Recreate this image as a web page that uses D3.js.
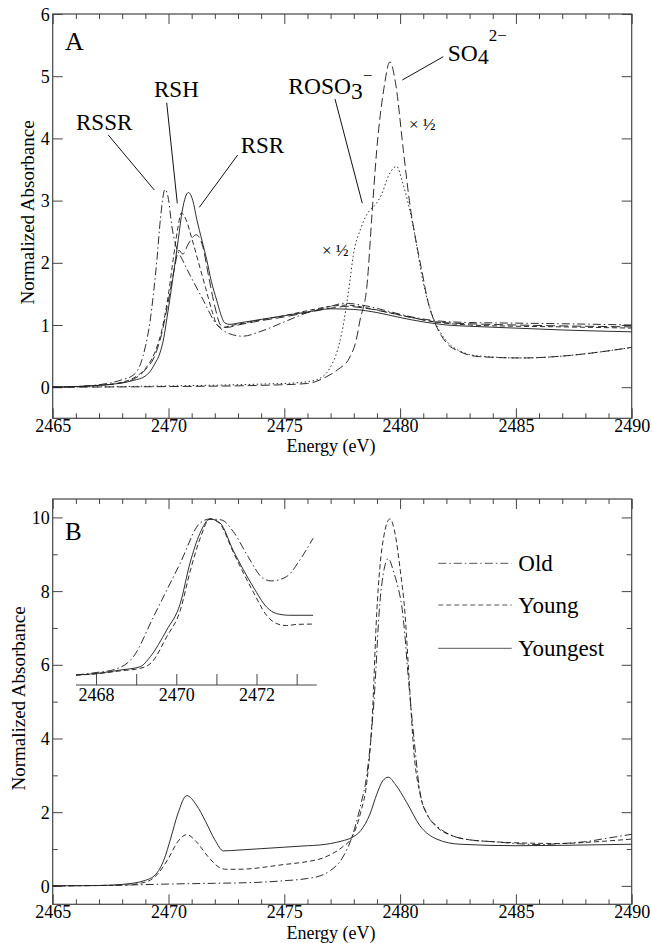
<!DOCTYPE html>
<html><head><meta charset="utf-8">
<script src="https://cdn.jsdelivr.net/npm/d3@7"></script>
<style>
body{margin:0;background:#fff}
svg{display:block}
text{font-family:"Liberation Serif","Times New Roman",serif;fill:#000}
</style>
</head><body>
<svg id="c" width="652" height="943"></svg>
<script>
// ---------------- DATA ----------------
// Panel A: reference compounds, [energy eV, normalized absorbance]
const rssr = [[2465,0],[2466,0.01],[2467,0.04],[2467.5,0.07],[2468,0.12],[2468.5,0.2],[2468.8,0.38],[2469,0.65],[2469.2,1.05],[2469.35,1.5],[2469.5,2.05],[2469.65,2.7],[2469.85,3.18],[2470.0,3.02],[2470.14,2.6],[2470.3,2.3],[2470.6,2.05],[2471,1.75],[2471.5,1.4],[2472,1.05],[2472.5,0.88],[2473.2,0.82],[2474,0.9],[2475,1.05],[2476,1.2],[2477,1.3],[2477.6,1.35],[2478.5,1.31],[2479.5,1.22],[2480.5,1.13],[2481.5,1.07],[2483,1.04],[2485,1.03],[2487,1.02],[2490,1.0]];
const rsh = [[2465,0],[2467,0.03],[2468,0.08],[2468.5,0.15],[2469,0.3],[2469.4,0.55],[2469.7,0.9],[2470,1.5],[2470.2,2.05],[2470.4,2.55],[2470.55,2.8],[2470.75,2.7],[2471,2.4],[2471.3,2.0],[2471.6,1.6],[2471.9,1.2],[2472.1,1.0],[2472.3,0.96],[2472.7,0.99],[2473.5,1.05],[2475,1.15],[2476,1.23],[2477,1.3],[2477.7,1.32],[2478.5,1.28],[2479.5,1.2],[2480.5,1.12],[2481.5,1.05],[2483,1.0],[2485,0.98],[2487,0.97],[2490,0.95]];
const rsx = [[2465,0],[2467,0.03],[2468,0.07],[2468.5,0.13],[2469,0.28],[2469.4,0.5],[2469.7,0.85],[2470,1.4],[2470.25,1.9],[2470.45,2.2],[2470.62,2.14],[2470.85,2.3],[2471.2,2.45],[2471.45,2.3],[2471.75,1.75],[2472,1.3],[2472.25,1.0],[2472.5,0.96],[2473,1.0],[2474,1.07],[2475,1.13],[2476,1.2],[2477,1.27],[2477.7,1.3],[2478.5,1.27],[2479.5,1.2],[2480.5,1.12],[2481.5,1.05],[2483,1.02],[2485,1.0],[2490,0.97]];
const rsr = [[2465,0],[2466,0.01],[2467,0.03],[2468,0.07],[2468.5,0.11],[2469,0.18],[2469.2,0.25],[2469.4,0.37],[2469.63,0.55],[2469.8,0.8],[2469.92,1.08],[2470.05,1.4],[2470.2,1.78],[2470.42,2.37],[2470.6,2.85],[2470.86,3.13],[2471.05,3.0],[2471.22,2.7],[2471.45,2.35],[2471.65,2.05],[2471.85,1.7],[2472.08,1.4],[2472.25,1.18],[2472.44,1.03],[2472.65,1.01],[2473,1.03],[2474,1.09],[2475,1.15],[2476,1.21],[2477,1.26],[2478,1.25],[2479,1.2],[2480,1.12],[2481,1.05],[2482,1.0],[2483,0.98],[2485,0.95],[2487,0.92],[2490,0.89]];
const so4 = [[2465,0],[2470,0.01],[2474,0.03],[2476,0.06],[2476.83,0.17],[2477.3,0.28],[2477.84,0.49],[2478.1,0.75],[2478.27,1.08],[2478.56,1.6],[2478.8,2.85],[2478.99,3.81],[2479.3,4.8],[2479.56,5.23],[2479.8,4.9],[2480.14,3.81],[2480.4,3.0],[2480.71,2.3],[2480.93,1.89],[2481.22,1.35],[2481.51,1.03],[2482.01,0.71],[2482.59,0.57],[2483.45,0.49],[2485.3,0.47],[2487,0.5],[2488.5,0.56],[2490,0.64]];
const roso3 = [[2465,0],[2470,0.02],[2474,0.05],[2475.5,0.07],[2476,0.09],[2476.4,0.12],[2476.97,0.31],[2477.3,0.6],[2477.48,0.87],[2477.84,1.73],[2477.97,2.1],[2478.3,2.55],[2478.7,2.85],[2478.9,2.92],[2479.2,3.1],[2479.5,3.4],[2479.85,3.55],[2480.1,3.3],[2480.57,2.58],[2481,1.68],[2481.22,1.35],[2481.51,1.05],[2482.01,0.74],[2482.59,0.58],[2483.45,0.5],[2485.3,0.47],[2487,0.5],[2488.5,0.56],[2490,0.64]];

// Panel B: samples
const old = [[2465,0],[2468,0.02],[2470,0.05],[2472,0.07],[2474,0.1],[2475,0.14],[2476,0.2],[2476.54,0.27],[2477,0.42],[2477.5,0.75],[2477.91,1.31],[2478.3,2.2],[2478.56,3.0],[2478.87,5.0],[2479.13,7.7],[2479.27,8.45],[2479.49,8.88],[2479.73,8.5],[2479.93,8.05],[2480.07,7.6],[2480.2,6.85],[2480.31,5.98],[2480.6,4.0],[2480.86,2.54],[2481.2,1.9],[2481.58,1.63],[2482.3,1.35],[2483,1.25],[2484,1.2],[2485,1.15],[2486,1.12],[2487,1.15],[2488,1.2],[2489,1.3],[2490,1.4]];
const young = [[2465,0],[2468,0.02],[2469,0.1],[2469.5,0.3],[2470,0.75],[2470.4,1.2],[2470.79,1.39],[2471.2,1.2],[2471.7,0.8],[2472.2,0.5],[2472.5,0.45],[2473,0.45],[2475,0.58],[2476,0.66],[2476.54,0.73],[2477,0.85],[2477.5,1.05],[2477.91,1.31],[2478.3,2.0],[2478.56,2.8],[2478.8,4.6],[2478.99,7.4],[2479.12,8.6],[2479.3,9.5],[2479.56,9.96],[2479.8,9.5],[2480.0,8.6],[2480.21,7.4],[2480.4,5.5],[2480.6,3.6],[2480.86,2.5],[2481.2,1.9],[2481.58,1.6],[2482.3,1.35],[2483,1.25],[2484,1.2],[2485,1.17],[2487,1.15],[2488,1.18],[2490,1.27]];
const youngest = [[2465,0],[2467,0.01],[2468,0.04],[2469,0.15],[2469.5,0.35],[2469.8,0.7],[2470.1,1.3],[2470.4,1.95],[2470.79,2.45],[2471.2,2.2],[2471.6,1.75],[2472,1.25],[2472.37,0.95],[2473,0.97],[2474,1.01],[2475,1.05],[2476,1.09],[2476.54,1.11],[2477,1.15],[2477.5,1.22],[2477.91,1.31],[2478.3,1.5],[2478.7,1.95],[2479,2.5],[2479.25,2.85],[2479.49,2.95],[2479.8,2.75],[2480.28,2.27],[2480.86,1.63],[2481.58,1.27],[2482.59,1.13],[2485,1.09],[2487,1.1],[2490,1.13]];

// Inset (pre-edge region, peak-normalized units)
const insetOld = [[2467.5,0.06],[2468,0.075],[2468.48,0.095],[2468.93,0.17],[2469.43,0.41],[2469.76,0.57],[2470.09,0.73],[2470.59,0.975],[2470.84,1.0],[2471.13,0.994],[2471.42,0.924],[2471.79,0.773],[2472.16,0.643],[2472.37,0.627],[2472.75,0.653],[2473.08,0.753],[2473.41,0.884]];
const insetYoung = [[2467.5,0.06],[2468,0.067],[2468.6,0.085],[2469.1,0.1],[2469.4,0.14],[2469.76,0.29],[2470.1,0.45],[2470.34,0.68],[2470.59,0.88],[2470.84,1.0],[2471.09,0.97],[2471.42,0.8],[2471.92,0.56],[2472.25,0.42],[2472.5,0.37],[2472.75,0.358],[2473.0,0.365],[2473.41,0.367]];
const insetYoungest = [[2467.5,0.06],[2468,0.069],[2468.6,0.09],[2469.1,0.11],[2469.35,0.17],[2469.76,0.331],[2470.1,0.492],[2470.34,0.733],[2470.59,0.914],[2470.84,1.0],[2471.09,0.976],[2471.42,0.81],[2471.92,0.59],[2472.25,0.47],[2472.5,0.43],[2472.83,0.42],[2473.41,0.42]];

// Tick values
const xMajor = [2465,2470,2475,2480,2485,2490];
const xMinor = d3.range(2465,2491,1).filter(v=>v%5!==0);
const yMajorA = [0,1,2,3,4,5,6];
const yMajorB = [0,2,4,6,8,10];
const yMinorB = [1,3,5,7,9];
const insetMajor = [2468,2470,2472];
const insetMinor = [2469,2471,2473];
const legendNames = ["Old","Young","Youngest"];

// ---------------- DRAWING ----------------
const svg = d3.select("#c");
const AX = "#444";
const L = 52.7, R = 631.7;
const TICKFS = 18;
const x = d3.scaleLinear().domain([2465,2490]).range([L,R]);

function panel(top, bottom, ydom, yMaj, yMin, labelFmt){
  const y = d3.scaleLinear().domain(ydom).range([bottom, top]);
  const g = svg.append("g");
  const mk = (axis, tr, vals, size, fmt, pad) => {
    const a = g.append("g").attr("transform", tr)
      .call(axis.tickValues(vals).tickSize(size).tickPadding(pad==null?3:pad).tickFormat(fmt));
    a.select(".domain").remove();
    a.selectAll("line").attr("stroke", AX).attr("stroke-width", 1);
    a.selectAll("text").attr("font-size", TICKFS).attr("font-family", "Liberation Serif").attr("fill","#000");
    return a;
  };
  const bx = mk(d3.axisBottom(x), `translate(0,${bottom})`, xMajor, -10, d3.format("d"), 1.5);
  bx.selectAll("text").attr("dy", "0.7em");
  mk(d3.axisBottom(x), `translate(0,${bottom})`, xMinor, -5, "");
  mk(d3.axisTop(x), `translate(0,${top})`, xMajor, -10, "");
  mk(d3.axisTop(x), `translate(0,${top})`, xMinor, -5, "");
  const ly = mk(d3.axisLeft(y), `translate(${L},0)`, yMaj, -10, labelFmt);
  ly.selectAll("text").attr("x", -3).attr("dy","0.34em");
  mk(d3.axisRight(y), `translate(${R},0)`, yMaj, -10, "");
  if (yMin) {
    mk(d3.axisLeft(y), `translate(${L},0)`, yMin, -5, "");
    mk(d3.axisRight(y), `translate(${R},0)`, yMin, -5, "");
  }
  g.append("rect").attr("x", L).attr("y", top).attr("width", R-L).attr("height", bottom-top)
    .attr("fill","none").attr("stroke", AX).attr("stroke-width", 1.2);
  return {g, y};
}

function curve(g, data, xs, ys, dash, w){
  const line = d3.line().x(d=>xs(d[0])).y(d=>ys(d[1])).curve(d3.curveMonotoneX);
  g.append("path").datum(data).attr("d", line).attr("fill","none")
    .attr("stroke","#222").attr("stroke-width", w||0.95)
    .attr("stroke-dasharray", dash||null);
}

const DASHDOT = "8,3,1.5,3";
const DASH = "5,3";
const LDASH = "9,4";
const DOT = "1.5,2.5";

// Panel A
const A = panel(14, 418.3, [-0.5,6], yMajorA, null, d3.format("d"));
curve(A.g, rssr, x, A.y, DASHDOT);
curve(A.g, rsh, x, A.y, DASH);
curve(A.g, rsx, x, A.y, LDASH);
curve(A.g, rsr, x, A.y, null);
curve(A.g, so4, x, A.y, LDASH);
curve(A.g, roso3, x, A.y, DOT);

// Panel A annotations
const gA = A.g;
gA.append("text").attr("x", 65).attr("y", 50).attr("font-size", 26).text("A");
const lab = (t, xx, yy, fs) => gA.append("text").attr("x", xx).attr("y", yy).attr("font-size", fs||23).text(t);
lab("RSSR", 76, 129.5);
lab("RSH", 154, 96.5);
lab("RSR", 240.7, 152.7);
const ro = gA.append("text").attr("x", 288.3).attr("y", 94.3).attr("font-size", 23.5);
ro.append("tspan").text("ROSO");
ro.append("tspan").attr("dy", 5).text("3");
ro.append("tspan").attr("dy", -18).attr("font-size", 17).text("\u2212");
const so = gA.append("text").attr("x", 447.7).attr("y", 61).attr("font-size", 23.5);
so.append("tspan").text("SO");
so.append("tspan").attr("dy", 3).attr("font-size", 22).text("4");
so.append("tspan").attr("dy", -23).attr("font-size", 17).text("2\u2212");
lab("\u00d7 \u00bd", 409, 130, 17);
lab("\u00d7 \u00bd", 322, 256, 17);
const lead = (x1,y1,x2,y2) => gA.append("line").attr("x1",x1).attr("y1",y1).attr("x2",x2).attr("y2",y2)
  .attr("stroke","#111").attr("stroke-width",1);
lead(108.3,135,154.3,190);
lead(166.7,102.7,177.3,203.3);
lead(237.7,155,199.3,207.3);
lead(335,99,362.3,203.3);
lead(443.3,56.7,402.3,80);

// Axis titles A
svg.append("text").attr("x", 331).attr("y", 452).attr("text-anchor","middle").attr("font-size",18).text("Energy (eV)");
svg.append("text").attr("transform","translate(33.5,212.5) rotate(-90)").attr("text-anchor","middle").attr("font-size",19).text("Normalized Absorbance");

// Panel B
const B = panel(499, 904.3, [-0.5,10.5], yMajorB, yMinorB, d3.format("d"));
curve(B.g, old, x, B.y, DASHDOT);
curve(B.g, young, x, B.y, DASH);
curve(B.g, youngest, x, B.y, null);
B.g.append("text").attr("x", 65).attr("y", 540).attr("font-size", 25).text("B");

svg.append("text").attr("x", 331).attr("y", 939).attr("text-anchor","middle").attr("font-size",18).text("Energy (eV)");
svg.append("text").attr("transform","translate(25,698.5) rotate(-90)").attr("text-anchor","middle").attr("font-size",19).text("Normalized Absorbance");

// Legend
const dashes = [DASHDOT, DASH, null];
const legY = [563.3, 605, 648.3];
legendNames.forEach((n,i)=>{
  B.g.append("line").attr("x1",438.3).attr("x2",511.7).attr("y1",legY[i]).attr("y2",legY[i])
    .attr("stroke","#555").attr("stroke-width",1).attr("stroke-dasharray",dashes[i]);
  B.g.append("text").attr("x",518.3).attr("y",legY[i]+8).attr("font-size",23).text(n);
});

// Inset
const ix = d3.scaleLinear().domain([2467.5,2473.5]).range([76,316.7]);
const iy = d3.scaleLinear().domain([0,1]).range([685,519]);
const gi = svg.append("g");
const ia = gi.append("g").attr("transform","translate(0,685)")
  .call(d3.axisBottom(ix).tickValues(insetMajor).tickSize(-11).tickPadding(2).tickFormat(d3.format("d")));
ia.select(".domain").remove();
ia.selectAll("line").attr("stroke",AX);
ia.selectAll("text").attr("font-size",TICKFS).attr("font-family","Liberation Serif").attr("dy","0.75em");
const ib = gi.append("g").attr("transform","translate(0,685)")
  .call(d3.axisBottom(ix).tickValues(insetMinor).tickSize(-11).tickFormat(""));
ib.select(".domain").remove();
ib.selectAll("line").attr("stroke",AX);
gi.append("line").attr("x1",ix(2467.5)).attr("x2",ix(2473.5)).attr("y1",685).attr("y2",685).attr("stroke",AX).attr("stroke-width",1.2);
curve(gi, insetOld, ix, iy, DASHDOT);
curve(gi, insetYoung, ix, iy, DASH);
curve(gi, insetYoungest, ix, iy, null);
</script>
</body></html>
